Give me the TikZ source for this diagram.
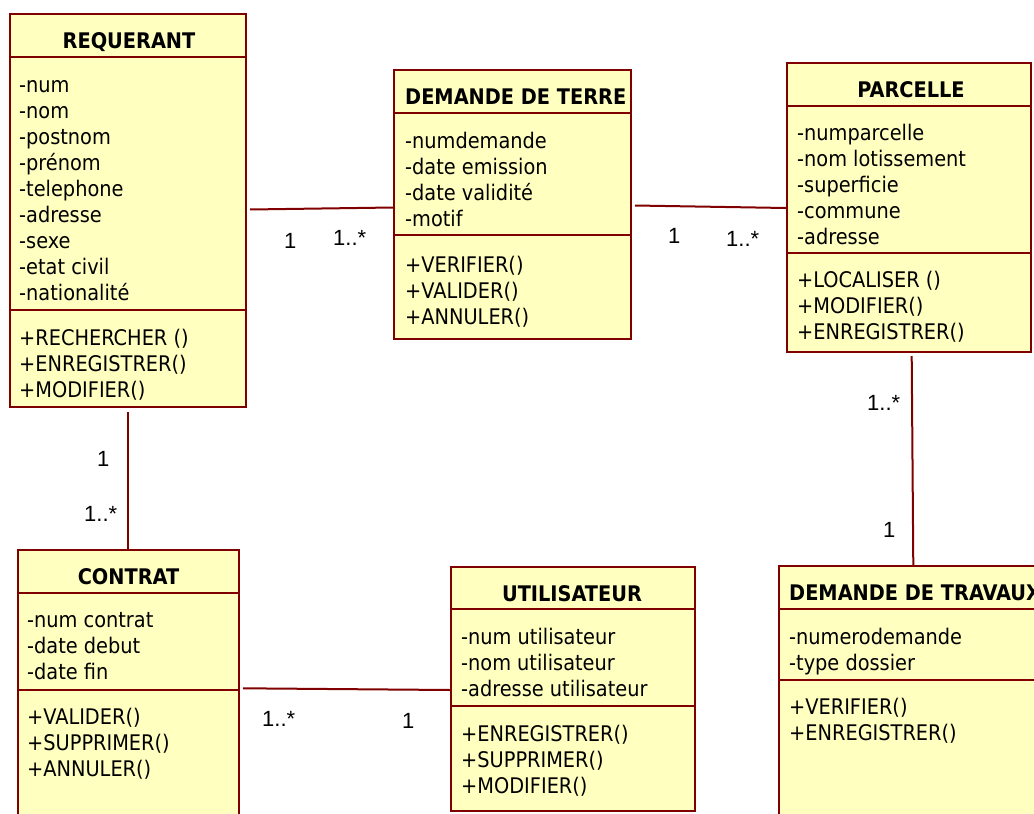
\documentclass[tikz,border=0pt]{standalone}
\usepackage{fontspec}
\newfontfamily\umltextfont{DejaVu Sans Condensed}
\newfontfamily\umllabelfont{Liberation Sans}
\definecolor{umlred}{RGB}{128,0,0}
\definecolor{umlfill}{RGB}{255,255,192}
\newcommand\attrfnt{\umltextfont\fontsize{21.5pt}{26pt}\selectfont}
\newcommand\titlefnt{\umltextfont\bfseries\fontsize{21.5pt}{26pt}\selectfont}
\newcommand\multfnt{\umllabelfont\fontsize{22pt}{26pt}\selectfont}
\tikzset{
  cls/.style={draw=umlred, fill=umlfill, line width=2pt, rectangle, inner sep=0pt, anchor=north west},
  sepline/.style={draw=umlred, line width=2pt},
  attr/.style={anchor=base west, inner sep=0pt, font=\attrfnt},
  ttl/.style={anchor=base, inner sep=0pt, font=\titlefnt},
  ttlw/.style={anchor=base west, inner sep=0pt, font=\titlefnt},
  mult/.style={anchor=base west, inner sep=0pt, font=\multfnt},
  assoc/.style={draw=umlred, line width=2pt}
}
\begin{document}
\begin{tikzpicture}[x=1pt,y=-1pt]
\useasboundingbox (0,0) rectangle (1034,814);
\fill[white] (0,0) rectangle (1034,814);
\clip (0,0) rectangle (1034,814);

% ---------- REQUERANT ----------
\node[cls, minimum width=236pt, minimum height=393pt] (req) at (9,13) {};
\draw[sepline] (req.west |- 0,57) -- (req.east |- 0,57);
\draw[sepline] (req.west |- 0,310) -- (req.east |- 0,310);
\node[ttl] (reqt) at (129,48) {REQUERANT};
\foreach \t [count=\i from 0] in {-num,-nom,-postnom,-prénom,-telephone,-adresse,-sexe,-etat civil,-nationalité}
  \node[attr] (reqa\i) at (19,92+26*\i) {\t};
\foreach \t [count=\i from 0] in {+RECHERCHER (),+ENREGISTRER(),+MODIFIER()}
  \node[attr] (reqm\i) at (19,345+26*\i) {\t};

% ---------- DEMANDE DE TERRE ----------
\node[cls, minimum width=237pt, minimum height=269pt] (dt) at (393,69) {};
\draw[sepline] (dt.west |- 0,113) -- (dt.east |- 0,113);
\draw[sepline] (dt.west |- 0,235) -- (dt.east |- 0,235);
\node[ttlw] (dtt) at (405,104) {DEMANDE DE TERRE};
\foreach \t [count=\i from 0] in {-numdemande,-date emission,-date validité,-motif}
  \node[attr] (dta\i) at (405,148+26*\i) {\t};
\foreach \t [count=\i from 0] in {+VERIFIER(),+VALIDER(),+ANNULER()}
  \node[attr] (dtm\i) at (405,272+26*\i) {\t};

% ---------- PARCELLE ----------
\node[cls, minimum width=244pt, minimum height=289pt] (par) at (786,62) {};
\draw[sepline] (par.west |- 0,106) -- (par.east |- 0,106);
\draw[sepline] (par.west |- 0,253) -- (par.east |- 0,253);
\node[ttl] (part) at (911,97) {PARCELLE};
\foreach \t [count=\i from 0] in {-numparcelle,-nom lotissement,-superficie,-commune,-adresse}
  \node[attr] (para\i) at (797,140+26*\i) {\t};
\foreach \t [count=\i from 0] in {+LOCALISER (),+MODIFIER(),+ENREGISTRER()}
  \node[attr] (parm\i) at (797,287+26*\i) {\t};

% ---------- CONTRAT ----------
\node[cls, minimum width=221pt, minimum height=300pt] (con) at (17,549) {};
\draw[sepline] (con.west |- 0,593) -- (con.east |- 0,593);
\draw[sepline] (con.west |- 0,690) -- (con.east |- 0,690);
\node[ttl] (cont) at (128.5,584) {CONTRAT};
\foreach \t [count=\i from 0] in {-num contrat,-date debut,-date fin}
  \node[attr] (cona\i) at (27,627+26*\i) {\t};
\foreach \t [count=\i from 0] in {+VALIDER(),+SUPPRIMER(),+ANNULER()}
  \node[attr] (conm\i) at (27,724+26*\i) {\t};

% ---------- UTILISATEUR ----------
\node[cls, minimum width=244pt, minimum height=244pt] (uti) at (450,566) {};
\draw[sepline] (uti.west |- 0,609) -- (uti.east |- 0,609);
\draw[sepline] (uti.west |- 0,706) -- (uti.east |- 0,706);
\node[ttl] (utit) at (572,601) {UTILISATEUR};
\foreach \t [count=\i from 0] in {-num utilisateur,-nom utilisateur,-adresse utilisateur}
  \node[attr] (utia\i) at (461,644+26*\i) {\t};
\foreach \t [count=\i from 0] in {+ENREGISTRER(),+SUPPRIMER(),+MODIFIER()}
  \node[attr] (utim\i) at (461,741+26*\i) {\t};

% ---------- DEMANDE DE TRAVAUX ----------
\node[cls, minimum width=300pt, minimum height=300pt] (dtr) at (778,565) {};
\draw[sepline] (dtr.west |- 0,609) -- (dtr.east |- 0,609);
\draw[sepline] (dtr.west |- 0,680) -- (dtr.east |- 0,680);
\node[ttlw] (dtrt) at (789,600) {DEMANDE DE TRAVAUX};
\foreach \t [count=\i from 0] in {-numerodemande,-type dossier}
  \node[attr] (dtra\i) at (789,644+26*\i) {\t};
\foreach \t [count=\i from 0] in {+VERIFIER(),+ENREGISTRER()}
  \node[attr] (dtrm\i) at (789,714+26*\i) {\t};

% ---------- associations ----------
\draw[assoc] ([shift={(3,196.5)}]req.north east) -- ([shift={(0,138.5)}]dt.north west);
\draw[assoc] ([shift={(3,136.5)}]dt.north east) -- ([shift={(0,146)}]par.north west);
\draw[assoc] ([shift={(119,4)}]req.south west) -- ([shift={(111,0)}]con.north west);
\draw[assoc] ([shift={(125.7,3)}]par.south west) -- ([shift={(135.3,0)}]dtr.north west);
\draw[assoc] ([shift={(3,139.3)}]con.north east) -- ([shift={(0,124)}]uti.north west);

% ---------- multiplicities ----------
\node[mult] (m1) at (284,248) {1};
\node[mult] (m2) at (333,245) {1..*};
\node[mult] (m3) at (668,243) {1};
\node[mult] (m4) at (726,246) {1..*};
\node[mult] (m5) at (97,466) {1};
\node[mult] (m6) at (84,521) {1..*};
\node[mult] (m7) at (867,410) {1..*};
\node[mult] (m8) at (883,537) {1};
\node[mult] (m9) at (262,726) {1..*};
\node[mult] (m10) at (402,728) {1};
\end{tikzpicture}
\end{document}
